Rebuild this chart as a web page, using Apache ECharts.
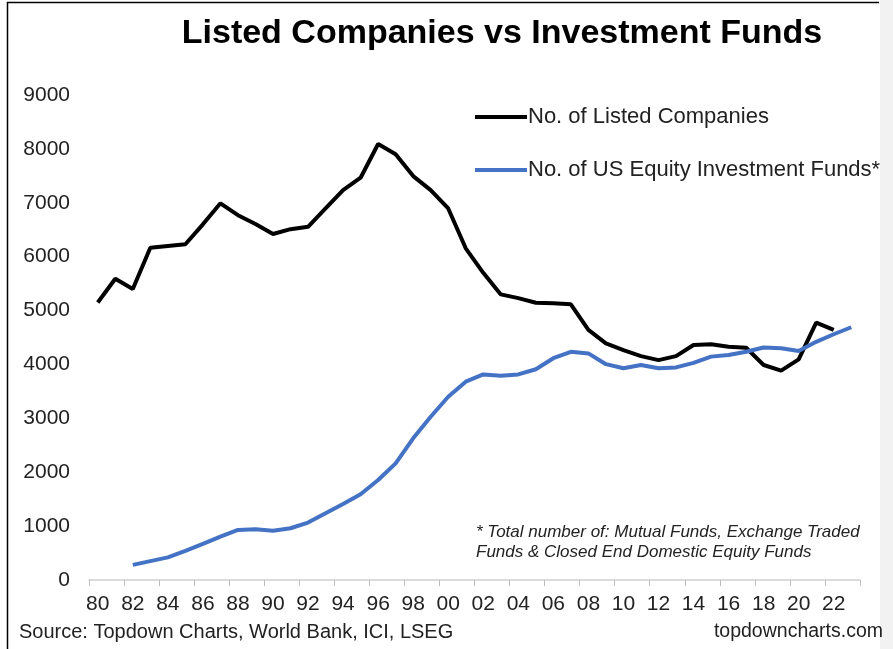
<!DOCTYPE html>
<html>
<head>
<meta charset="utf-8">
<script src="https://cdn.jsdelivr.net/npm/echarts@6/dist/echarts.min.js"></script>
<style>
html,body{margin:0;padding:0;background:#fff;}
#c{width:893px;height:649px;}
</style>
</head>
<body>
<div id="c"></div>
<script>
const years = [];
for (let y = 1980; y <= 2023; y++) years.push(String(y));

const listedCompanies = [5150, 5590, 5400, 6165, 6200, 6230, 6600, 6990, 6770, 6605, 6420, 6510, 6555, 6895, 7235, 7465, 8090, 7900, 7495, 7235, 6895, 6155,
  5700, 5300, 5230, 5145, 5135, 5115, 4640, 4390, 4265, 4155, 4080, 4155, 4360, 4375, 4330, 4310, 3990, 3885, 4095, 4775, 4640, null];

const equityFunds = [null, null, 280, 350, 420, 540, 670, 805, 930, 940, 915, 960, 1065, 1240, 1410, 1590, 1855, 2165, 2630, 3030, 3400, 3680,
  3815, 3790, 3815, 3910, 4115, 4235, 4205, 4005, 3930, 3990, 3930, 3945, 4030, 4145, 4175, 4235, 4315, 4300, 4250, 4420, 4560, 4690];

const yTicks = [0, 1000, 2000, 3000, 4000, 5000, 6000, 7000, 8000, 9000];
const seriesNames = ['No. of Listed Companies', 'No. of US Equity Investment Funds*'];

const chart = echarts.init(document.getElementById('c'));
const FONT = '"Liberation Sans", Arial, sans-serif';
chart.setOption({
  backgroundColor: '#fff',
  animation: false,
  textStyle: { fontFamily: FONT },
  title: {
    text: 'Listed Companies vs Investment Funds',
    left: 497, top: 12, textAlign: 'center',
    textStyle: { fontSize: 34, fontWeight: 'bold', color: '#000', fontFamily: FONT }
  },
  legend: {
    orient: 'vertical', left: 470, top: 101,
    itemWidth: 52, itemHeight: 4, itemGap: 31, icon: 'rect',
    textStyle: { fontSize: 22, color: '#222', padding: [0, 0, 0, -4] },
    data: seriesNames
  },
  grid: { left: 89, right: 33, top: 95, bottom: 69 },
  xAxis: {
    type: 'category', data: years, boundaryGap: true,
    axisLine: { lineStyle: { color: '#d0d0d0', width: 1.5 } },
    axisTick: { show: true, interval: 1, length: 6, lineStyle: { color: '#bdbdbd', width: 1 } },
    axisLabel: { interval: 1, fontSize: 21, color: '#222', margin: 14, formatter: v => v.slice(2) }
  },
  yAxis: {
    type: 'value', min: yTicks[0], max: yTicks[yTicks.length - 1], interval: 1000,
    splitLine: { show: false },
    axisLine: { show: false }, axisTick: { show: false },
    axisLabel: { fontSize: 21, color: '#222', margin: 19, formatter: v => String(v) }
  },
  series: [
    { name: seriesNames[0], type: 'line', data: listedCompanies, symbol: 'none',
      lineStyle: { color: '#000', width: 4 }, itemStyle: { color: '#000' } },
    { name: seriesNames[1], type: 'line', data: equityFunds, symbol: 'none',
      lineStyle: { color: '#4472C4', width: 4 }, itemStyle: { color: '#4472C4' } }
  ],
  graphic: [
    { type: 'line', shape: { x1: 7.5, y1: 2, x2: 7.5, y2: 649 }, style: { stroke: '#000', lineWidth: 1.5 } },
    { type: 'line', shape: { x1: 7, y1: 2.5, x2: 879, y2: 2.5 }, style: { stroke: '#000', lineWidth: 1.5 } },
    { type: 'rect', shape: { x: 880, y: 0, width: 13, height: 649 }, style: { fill: '#f2f2f2' } },
    { type: 'text', left: 476, top: 522, style: { text: '* Total number of: Mutual Funds, Exchange Traded\nFunds & Closed End Domestic Equity Funds', fontSize: 17, fontStyle: 'italic', fill: '#222', lineHeight: 20, fontFamily: FONT } },
    { type: 'text', left: 19, top: 622, style: { text: 'Source: Topdown Charts, World Bank, ICI, LSEG', fontSize: 20, fill: '#222', fontFamily: FONT } },
    { type: 'text', right: 10, top: 622, style: { text: 'topdowncharts.com', fontSize: 19.5, fill: '#222', fontFamily: FONT } }
  ]
});
</script>
</body>
</html>
